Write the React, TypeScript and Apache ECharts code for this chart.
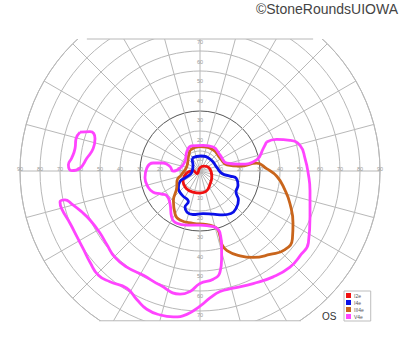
import React, { useEffect, useRef } from 'react';
import * as echarts from 'echarts';

// Isopters: [x (deg, + = right), y (deg, + = up)]
const SERIES_NAMES = ['I2e', 'I4e', 'III4e', 'V4e'];
const SERIES_COLORS = ['#f01010', '#0a10e8', '#c9651c', '#ff44ff'];

const I2E: [number, number][] = [
  [-6.6, 1.4], [-3.5, 2.5], [-1.5, 1], [0, 4], [2, 4.8], [4.5, 4], [5.9, -0.5], [5, -4.5],
  [3, -8.2], [0, -9], [-3.5, -8.5], [-7, -6.5], [-8.5, -3], [-6.6, 1.4],
];

const I4E: [number, number][] = [
  [-4, 9], [0.5, 10], [5.5, 8], [8.5, 4], [11, 1], [15, -0.3], [18.2, -1.5], [19, -5],
  [18, -8.5], [19.2, -12.5], [18.2, -16.5], [15.5, -19.5], [11.5, -20.2], [6.5, -19.8],
  [1.5, -19.5], [-3.5, -20], [-6.5, -18.8], [-7.5, -16.2], [-5.8, -13.5], [-9, -10],
  [-10.8, -6.5], [-10, -3], [-7, -1], [-4.2, 1.5], [-3.5, 5], [-3.8, 7.5], [-4, 9],
];

const III4E: [number, number][] = [
  [-5, 13], [0, 14.8], [6.5, 13.2], [10, 9], [13.5, 5.5], [20, 4.8], [28.3, 6.3], [33.3, 3.5],
  [38.5, -0.5], [42.5, -7.5], [45, -14.5], [46.5, -24.5], [46.2, -32.5], [42.5, -38],
  [35, -40.5], [26.5, -42], [20, -41.2], [13.5, -38.5], [10.8, -35], [10, -31], [8.3, -27],
  [3.5, -25.2], [-3.5, -24.5], [-10, -22.8], [-12.5, -19.5], [-13.3, -13], [-11.6, -6],
  [-11.5, -2.8], [-9.2, 0.5], [-6.6, 4.6], [-5.8, 9.6], [-5, 13],
];

const V4E_MAIN: [number, number][] = [
  [33.3, 17.2], [38.3, 18.5], [45, 18], [50, 15.5], [52.5, 8.8], [54.2, 0.5], [55, -7.8],
  [55, -21.2], [54.2, -34.5], [50, -41.2], [45, -47], [36.6, -52], [26.6, -55.4], [16.6, -57.8],
  [10, -59.5], [5, -62.8], [0, -67], [-6.6, -71.2], [-13.3, -72.5], [-20, -71.5], [-26.6, -68.6],
  [-31.6, -63.6], [-36.6, -57.8], [-45, -54.5], [-50.8, -51.2], [-55, -44.5], [-58.3, -37.8],
  [-61.6, -31.2], [-65, -24.5], [-69.2, -17], [-70, -13.6], [-67.5, -12.5], [-64.2, -14.5],
  [-59.2, -18.6], [-55, -22.8], [-50, -29.5], [-46.6, -35.4], [-42.5, -42], [-36.6, -47],
  [-28.3, -51.2], [-20, -56.2], [-10, -60.8], [-5, -59.5], [0, -55.4], [6.6, -53.2],
  [10, -49.5], [10.8, -42.8], [10.8, -36.2], [10, -29.5], [9.2, -27.8], [6.6, -26.2],
  [0, -25.4], [-6.6, -25.4], [-11.6, -24.5], [-14.2, -21.2], [-15, -14.5], [-16.6, -10.4],
  [-19.2, -9.5], [-23.4, -8.6], [-25.8, -6.2], [-27.5, -1.2], [-26.6, 3.8], [-23.4, 6.4],
  [-18.4, 6.4], [-15, 4.6], [-13.4, 2.2], [-10, 3.8], [-7.5, 7.2], [-6.6, 12.2], [-4.2, 15.2],
  [1.6, 15.5], [6.6, 14.6], [10, 10.5], [13.4, 6.4], [20, 5.8], [28.3, 8], [31.6, 13.8],
  [33.3, 17.2],
];

const V4E_ISLAND: [number, number][] = [
  [-60, 22.2], [-55, 22.5], [-52.5, 18.8], [-53.4, 13.8], [-56.6, 8.8], [-60, 3.8],
  [-64.2, 2.5], [-65.8, 5.5], [-64.2, 8.8], [-62.5, 13.8], [-62, 18.8], [-60, 22.2],
];

// Axes / field limits (degrees)
const FIELD_MAX = 90;
const RING_STEP = 10;
const MERIDIAN_STEP = 15;
const DARK_RING = 30;
const TOP_CLIP = 70;
const BOTTOM_CLIP = -74.5;
const MAX_V_LABEL = 70;

const RING = '#b8b8b8';
const RING_DARK = '#555555';

export default function App() {
  const ref = useRef<HTMLDivElement>(null);

  useEffect(() => {
    const chart = echarts.init(ref.current!, null, { renderer: 'svg' });
    const ringColors: string[] = [];
    for (let v = 0; v <= FIELD_MAX; v += RING_STEP) ringColors.push(v === DARK_RING ? RING_DARK : RING);

    const lineSeries = (name: string, data: [number, number][], color: string) => ({
      name,
      type: 'line',
      data,
      smooth: 0.5,
      showSymbol: false,
      symbol: 'none',
      silent: true,
      clip: false,
      z: 3,
      color,
      itemStyle: { color },
      lineStyle: { color, width: 2.8 },
    });

    const option: any = {
      animation: false,
      backgroundColor: '#ffffff',
      textStyle: { fontFamily: 'Liberation Sans, Arial, sans-serif' },
      title: [
        {
          text: '©StoneRoundsUIOWA',
          right: 2,
          top: 2,
          padding: 0,
          textStyle: { fontSize: 14, fontWeight: 'normal', color: '#444', fontFamily: 'Liberation Sans' },
        },
        {
          text: 'OS',
          left: 322,
          top: 311,
          padding: 0,
          textStyle: { fontSize: 10, fontWeight: 'normal', color: '#333', fontFamily: 'Liberation Sans' },
        },
      ],
      polar: { center: [200, 171], radius: 180 },
      angleAxis: {
        type: 'value',
        min: 0,
        max: 360,
        interval: MERIDIAN_STEP,
        startAngle: 0,
        z: 0,
        axisLine: { show: true, lineStyle: { color: RING, width: 1 } },
        axisTick: { show: false },
        axisLabel: { show: false },
        splitLine: { show: true, lineStyle: { color: RING, width: 1 } },
      },
      radiusAxis: {
        type: 'value',
        min: 0,
        max: FIELD_MAX,
        interval: RING_STEP,
        z: 0,
        axisLine: { show: false },
        axisTick: { show: false },
        axisLabel: { show: false },
        splitLine: { show: true, lineStyle: { color: ringColors, width: 1 } },
      },
      grid: { left: 20, top: -9, width: 360, height: 360, containLabel: false },
      xAxis: {
        type: 'value',
        min: -FIELD_MAX,
        max: FIELD_MAX,
        interval: RING_STEP,
        position: 'bottom',
        offset: -180,
        z: 2,
        axisLine: { show: false, onZero: false },
        axisTick: { show: false },
        splitLine: { show: false },
        axisLabel: {
          fontSize: 5.5,
          color: '#9a9a9a',
          margin: 0.5,
          verticalAlign: 'bottom',
          showMinLabel: true,
          showMaxLabel: true,
          formatter: (v: number) => (v === 0 ? '' : String(Math.abs(v))),
        },
      },
      yAxis: {
        type: 'value',
        min: -FIELD_MAX,
        max: FIELD_MAX,
        interval: RING_STEP,
        position: 'left',
        offset: -180,
        z: 2,
        axisLine: { show: false, onZero: false },
        axisTick: { show: false },
        splitLine: { show: false },
        axisLabel: {
          fontSize: 5.5,
          color: '#9a9a9a',
          margin: 0,
          align: 'center',
          verticalAlign: 'top',
          formatter: (v: number) => (v === 0 || Math.abs(v) > MAX_V_LABEL ? '' : String(Math.abs(v))),
        },
      },
      legend: {
        orient: 'vertical',
        left: 344,
        top: 291,
        z: 6,
        data: SERIES_NAMES,
        icon: 'rect',
        itemWidth: 5,
        itemHeight: 5,
        itemGap: 2,
        padding: [2, 7, 2, 2],
        borderColor: '#bdbdbd',
        borderWidth: 1,
        backgroundColor: '#ffffff',
        selectedMode: false,
        textStyle: { fontSize: 5, color: '#555', padding: [0, 0, 0, -2] },
      },
      series: [
        lineSeries('I2e', I2E, SERIES_COLORS[0]),
        lineSeries('I4e', I4E, SERIES_COLORS[1]),
        lineSeries('III4e', III4E, SERIES_COLORS[2]),
        lineSeries('V4e', V4E_MAIN, SERIES_COLORS[3]),
        lineSeries('V4e', V4E_ISLAND, SERIES_COLORS[3]),
      ],
    };
    chart.setOption(option);

    const topHalf = Math.sqrt(FIELD_MAX * FIELD_MAX - TOP_CLIP * TOP_CLIP);
    const botHalf = Math.sqrt(FIELD_MAX * FIELD_MAX - BOTTOM_CLIP * BOTTOM_CLIP);
    const tl = chart.convertToPixel({ gridIndex: 0 }, [-topHalf, TOP_CLIP]) as number[];
    const tr = chart.convertToPixel({ gridIndex: 0 }, [topHalf, TOP_CLIP]) as number[];
    const bl = chart.convertToPixel({ gridIndex: 0 }, [-botHalf, BOTTOM_CLIP]) as number[];
    const br = chart.convertToPixel({ gridIndex: 0 }, [botHalf, BOTTOM_CLIP]) as number[];

    chart.setOption({
      graphic: [
        { type: 'rect', z: 1, silent: true, shape: { x: 0, y: 0, width: 400, height: tl[1] }, style: { fill: '#fff' } },
        { type: 'rect', z: 1, silent: true, shape: { x: 0, y: bl[1], width: 400, height: 352 - bl[1] }, style: { fill: '#fff' } },
        { type: 'line', z: 1, silent: true, shape: { x1: tl[0], y1: tl[1], x2: tr[0], y2: tr[1] }, style: { stroke: RING, lineWidth: 1 } },
        { type: 'line', z: 1, silent: true, shape: { x1: bl[0], y1: bl[1], x2: br[0], y2: br[1] }, style: { stroke: RING, lineWidth: 1 } },
      ],
    });

    return () => chart.dispose();
  }, []);

  return <div ref={ref} style={{ position: 'fixed', left: 0, top: 0, width: 400, height: 352 }} />;
}
